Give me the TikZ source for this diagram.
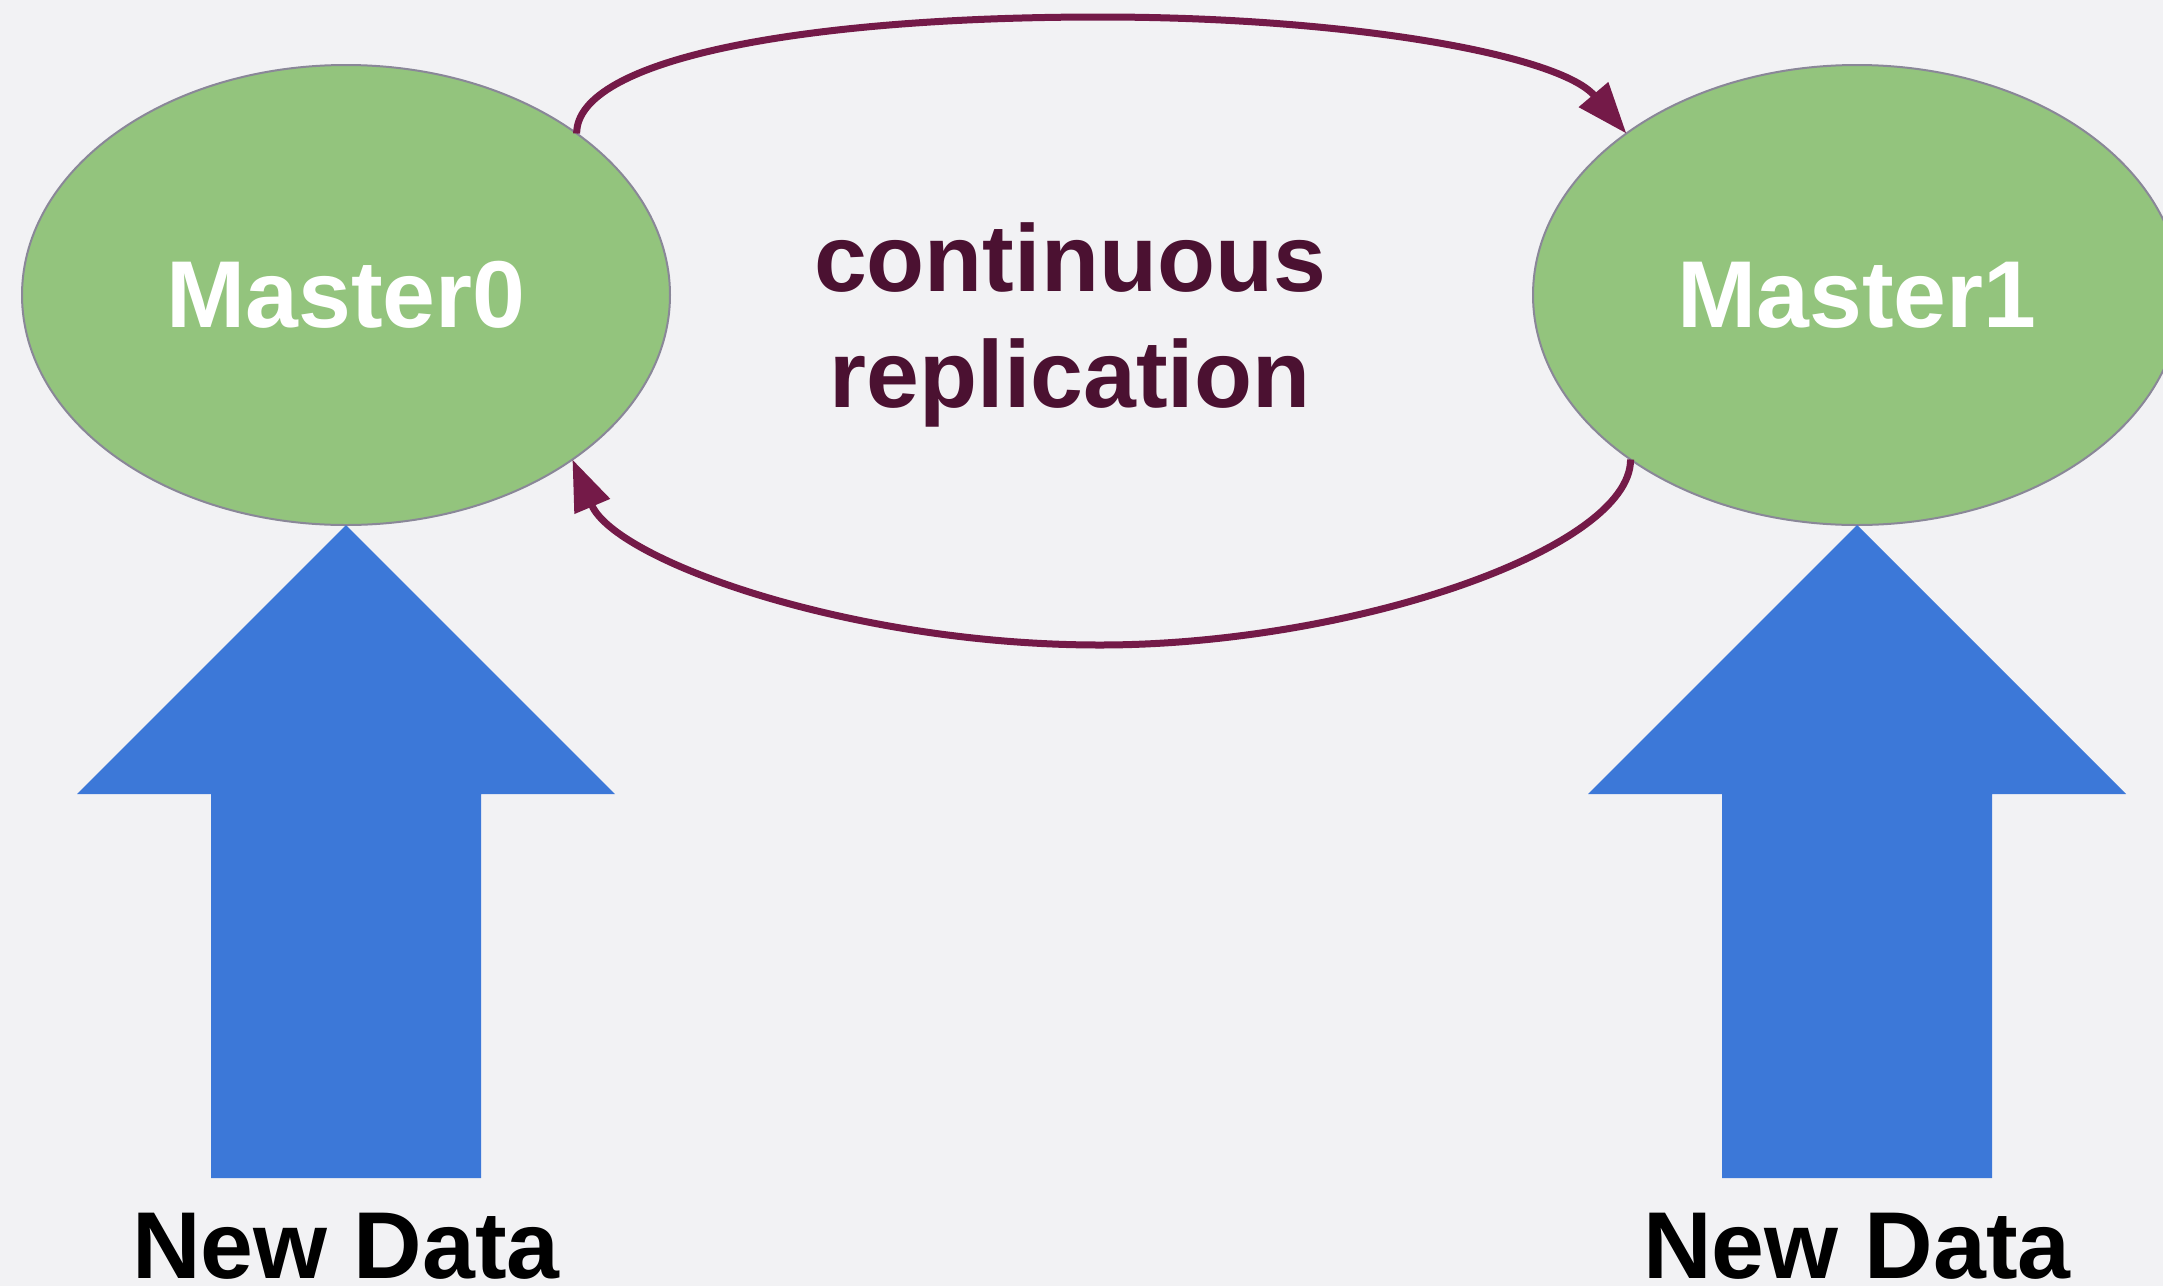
\documentclass[tikz,border=0pt]{standalone}
\usepackage{fontspec}
\setmainfont{Liberation Sans}
\usetikzlibrary{arrows.meta,shapes.geometric}

\definecolor{bgc}{HTML}{F2F2F4}
\definecolor{mastergreen}{HTML}{93C47D}
\definecolor{masteredge}{HTML}{8A8798}
\definecolor{datablue}{HTML}{3C78D8}
\definecolor{replcol}{HTML}{741A48}
\definecolor{labelcol}{HTML}{4B1131}

\tikzset{
  master/.style={ellipse, fill=mastergreen, draw=masteredge, line width=2pt,
    minimum width=648pt, minimum height=460pt, inner sep=0pt, outer sep=0pt,
    text=white, font=\fontsize{95}{110}\selectfont\bfseries},
  repl/.style={draw=replcol, line width=7pt,
    -{Triangle[length=51pt,width=37pt]}},
  datalabel/.style={anchor=base, inner sep=0pt, text=black,
    font=\fontsize{95}{110}\selectfont\bfseries},
  repllabel/.style={anchor=base, inner sep=0pt, text=labelcol,
    font=\fontsize{95}{110}\selectfont\bfseries},
  blockarrow/.style={fill=datablue}
}

\begin{document}
\begin{tikzpicture}[x=1pt, y=-1pt]
  % canvas
  \fill[bgc] (0,0) rectangle (2163,1286);
  \useasboundingbox (0,0) rectangle (2163,1286);

  % the two masters
  \node[master] (m0) at (346,295) {Master0};
  \node[master] (m1) at (1857,295) {Master1};

  % replication label
  \node[repllabel] (lblA) at (1070,291) {continuous};
  \node[repllabel] (lblB) at (1070,407) {replication};

  % replication connectors
  \coordinate (tp) at (1100,17);
  \coordinate (bt) at (1100,645);
  \draw[repl] (m0.35) .. controls +(0,-74) and (800,17) .. (tp)
              .. controls (1350,17) and (1560,55) .. (m1.145);
  \draw[repl] (m1.216) .. controls +(0,90) and (1350,645) .. (bt)
              .. controls (850,645) and (615,560) .. (m0.-36);

  % incoming data block arrows
  \fill[blockarrow] (m0.south) -- ++(269,269) -- ++(-134,0) -- ++(0,384)
        -- ++(-270,0) -- ++(0,-384) -- ++(-134,0) -- cycle;
  \fill[blockarrow] (m1.south) -- ++(269,269) -- ++(-134,0) -- ++(0,384)
        -- ++(-270,0) -- ++(0,-384) -- ++(-134,0) -- cycle;

  % data labels
  \node[datalabel] (nd0) at (346,1278) {New Data};
  \node[datalabel] (nd1) at (1857,1278) {New Data};
\end{tikzpicture}
\end{document}
